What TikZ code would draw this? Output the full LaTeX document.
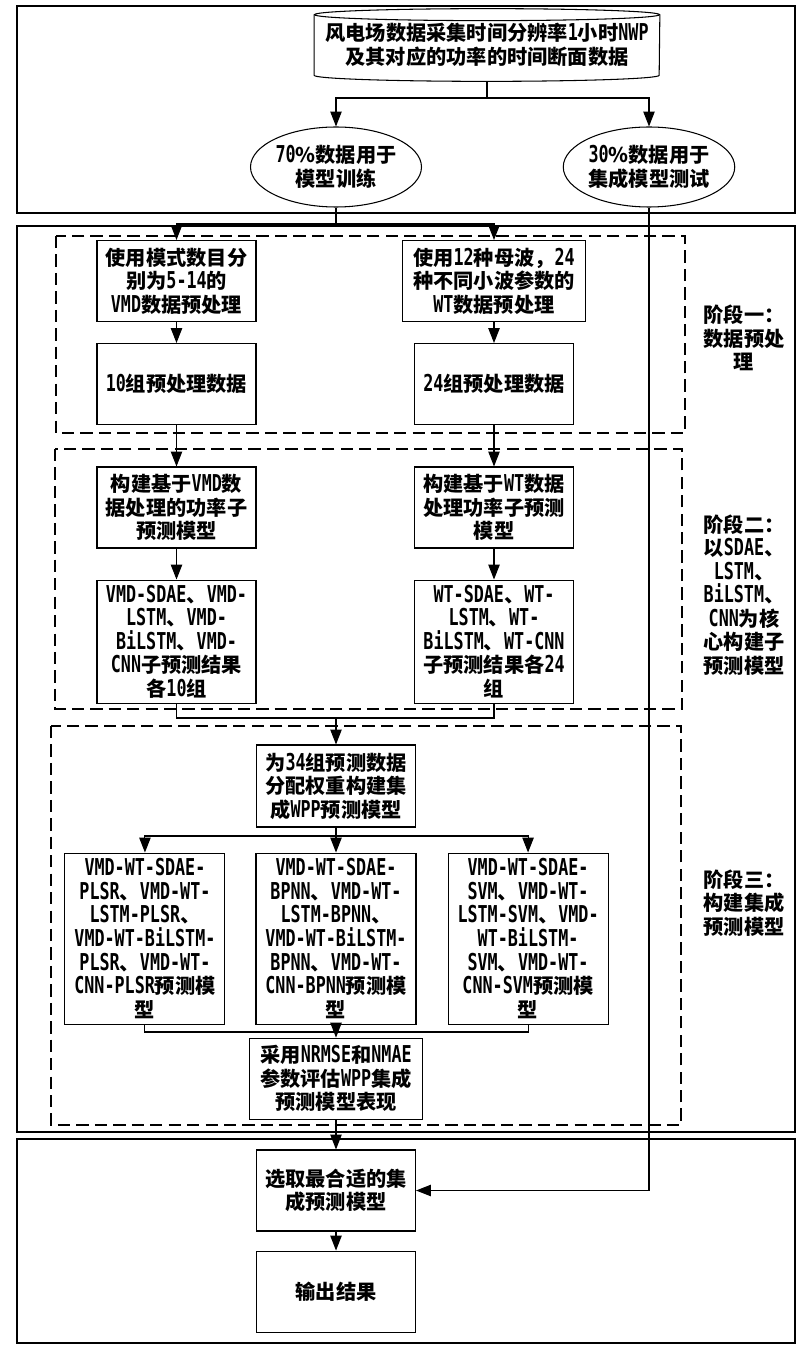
\documentclass[tikz,border=0pt]{standalone}
\usepackage{fontspec}
\setmainfont{Noto Sans CJK SC}
\newfontfamily\latfont{DejaVu Sans Mono}[Scale=1.15, FakeStretch=0.72]
% half-width Latin runs inside the CJK text
\XeTeXinterchartokenstate=1
\newXeTeXintercharclass\latclass
\newcount\chr
\chr=`0 \loop\XeTeXcharclass\chr=\latclass \ifnum\chr<`9 \advance\chr by 1 \repeat
\chr=`A \loop\XeTeXcharclass\chr=\latclass \ifnum\chr<`Z \advance\chr by 1 \repeat
\chr=`a \loop\XeTeXcharclass\chr=\latclass \ifnum\chr<`z \advance\chr by 1 \repeat
\XeTeXcharclass`-=\latclass
\XeTeXinterchartoks 0 \latclass = {\latfont}
\XeTeXinterchartoks 4095 \latclass = {\latfont}
\XeTeXinterchartoks \latclass 0 = {\rmfamily}
\XeTeXinterchartoks \latclass 4095 = {\rmfamily}
\usepackage{tikz}
\usetikzlibrary{arrows.meta, positioning, shapes.geometric}

\begin{document}
\begin{tikzpicture}[
  font=\fontsize{11.5pt}{13.4pt}\selectfont\bfseries,
  box/.style={rectangle, draw, semithick, minimum width=3.18cm, minimum height=1.62cm,
              align=center, inner sep=1pt},
  oval/.style={ellipse, draw, semithick, minimum width=3.1cm, minimum height=1.6cm,
               align=center, inner sep=0pt},
  stage/.style={align=center, inner sep=0pt},
  frame/.style={draw, thick},
  dashframe/.style={draw, semithick, dash pattern=on 7pt off 3.5pt},
  line/.style={semithick},
  arrow/.style={semithick, -{Triangle[length=8.5pt, width=6.5pt]}}]

  \useasboundingbox (0,0) rectangle (16.04,-27);

  % frames
  \draw[frame] (0.34,-0.12) rectangle (15.9,-4.26);
  \draw[frame] (0.34,-4.52) rectangle (15.9,-22.64);
  \draw[frame] (0.34,-22.78) rectangle (15.9,-26.86);
  \draw[dashframe] (1.12,-4.72) rectangle (13.7,-8.66);
  \draw[dashframe] (1.1,-8.98) rectangle (13.64,-14.18);
  \draw[dashframe] (1.02,-14.52) rectangle (13.62,-22.5);

  \node[align=center, minimum width=6.9cm, minimum height=1.2cm, inner sep=0pt]
        (data) at (9.74,-0.9) {风电场数据采集时间分辨率1小时NWP\\及其对应的功率的时间断面数据};
  \draw[semithick] (data.north west) -- (data.south west)
        arc[start angle=180, end angle=360, x radius=3.45cm, y radius=0.12cm] -- (data.north east);
  \draw[semithick] (data.north) ellipse[x radius=3.45cm, y radius=0.12cm];
  \path (data.south) ++(0,-0.12) coordinate (dataBase);

  \node[oval, minimum width=3.18cm] (train) at (6.72,-3.34) {70\%数据用于\\模型训练};
  \node[oval, minimum width=3.0cm] (test) at (12.98,-3.34) {30\%数据用于\\集成模型测试};

  \node[box] (vmd) at (3.53,-5.62) {使用模式数目分\\别为5-14的\\VMD数据预处理};
  \node[box, minimum width=3.66cm] (wt) at (9.88,-5.62) {使用12种母波，24\\种不同小波参数的\\WT数据预处理};
  \node[box, below=0.42cm of vmd] (vmdData) {10组预处理数据};
  \node[box, below=0.42cm of wt] (wtData) {24组预处理数据};
  \node[stage] (s1) at (14.88,-6.76) {阶段一：\\数据预处\\理};

  \node[box] (vmdSub) at (3.53,-10.15) {构建基于VMD数\\据处理的功率子\\预测模型};
  \node[box] (wtSub) at (9.88,-10.15) {构建基于WT数据\\处理功率子预测\\模型};
  \node[box, minimum height=2.46cm, below=0.62cm of vmdSub] (vmdRes)
        {VMD-SDAE、VMD-\\LSTM、VMD-\\BiLSTM、VMD-\\CNN子预测结果\\各10组};
  \node[box, minimum height=2.46cm, below=0.62cm of wtSub] (wtRes)
        {WT-SDAE、WT-\\LSTM、WT-\\BiLSTM、WT-CNN\\子预测结果各24\\组};
  \node[stage] (s2) at (14.88,-11.9)
        {阶段二：\\以SDAE、\\LSTM、\\BiLSTM、\\CNN为核\\心构建子\\预测模型};

  \node[box, minimum height=1.64cm] (ens) at (6.72,-15.72) {为34组预测数据\\分配权重构建集\\成WPP预测模型};
  \node[box, minimum width=3.2cm, minimum height=3.42cm, below=0.5cm of ens] (bpnn)
        {VMD-WT-SDAE-\\BPNN、VMD-WT-\\LSTM-BPNN、\\VMD-WT-BiLSTM-\\BPNN、VMD-WT-\\CNN-BPNN预测模\\型};
  \node[box, minimum width=3.2cm, minimum height=3.42cm, left=0.6cm of bpnn] (plsr)
        {VMD-WT-SDAE-\\PLSR、VMD-WT-\\LSTM-PLSR、\\VMD-WT-BiLSTM-\\PLSR、VMD-WT-\\CNN-PLSR预测模\\型};
  \node[box, minimum width=3.2cm, minimum height=3.42cm, right=0.62cm of bpnn] (svm)
        {VMD-WT-SDAE-\\SVM、VMD-WT-\\LSTM-SVM、VMD-\\WT-BiLSTM-\\SVM、VMD-WT-\\CNN-SVM预测模\\型};
  \node[box, minimum width=3.46cm, below=0.26cm of bpnn] (eval) {采用NRMSE和NMAE\\参数评估WPP集成\\预测模型表现};
  \node[stage] (s3) at (14.88,-18.06) {阶段三：\\构建集成\\预测模型};

  \node[box] (best) at (6.72,-23.81) {选取最合适的集\\成预测模型};
  \node[box, below=0.38cm of best] (out) {输出结果};

  \coordinate (split1) at (9.74,-1.96);
  \coordinate (split2) at (6.72,-4.48);
  \coordinate (join1) at (6.72,-14.36);
  \coordinate (split3) at (6.72,-16.72);
  \coordinate (join2) at (6.72,-20.64);

  \draw[line] (dataBase) -- (split1);
  \draw[arrow] (split1) -| (train.north);
  \draw[arrow] (split1) -| (test.north);
  \draw[line] (train.south) -- (split2);
  \draw[arrow] (split2) -| (vmd.north);
  \draw[arrow] (split2) -| (wt.north);
  \draw[arrow] (vmd) -- (vmdData);
  \draw[arrow] (wt) -- (wtData);
  \draw[arrow] (vmdData) -- (vmdSub);
  \draw[arrow] (wtData) -- (wtSub);
  \draw[arrow] (vmdSub) -- (vmdRes);
  \draw[arrow] (wtSub) -- (wtRes);
  \draw[line] (vmdRes.south) |- (join1) -| (wtRes.south);
  \draw[arrow] (join1) -- (ens.north);
  \draw[line] (ens.south) -- (split3);
  \draw[arrow] (split3) -| (plsr.north);
  \draw[arrow] (split3) -- (bpnn.north);
  \draw[arrow] (split3) -| (svm.north);
  \draw[line] (plsr.south) |- (join2) -| (svm.south);
  \draw[arrow] (bpnn) -- (eval);
  \draw[arrow] (eval) -- (best);
  \draw[arrow] (test.south) |- (best.east);
  \draw[arrow] (best) -- (out);
\end{tikzpicture}
\end{document}
